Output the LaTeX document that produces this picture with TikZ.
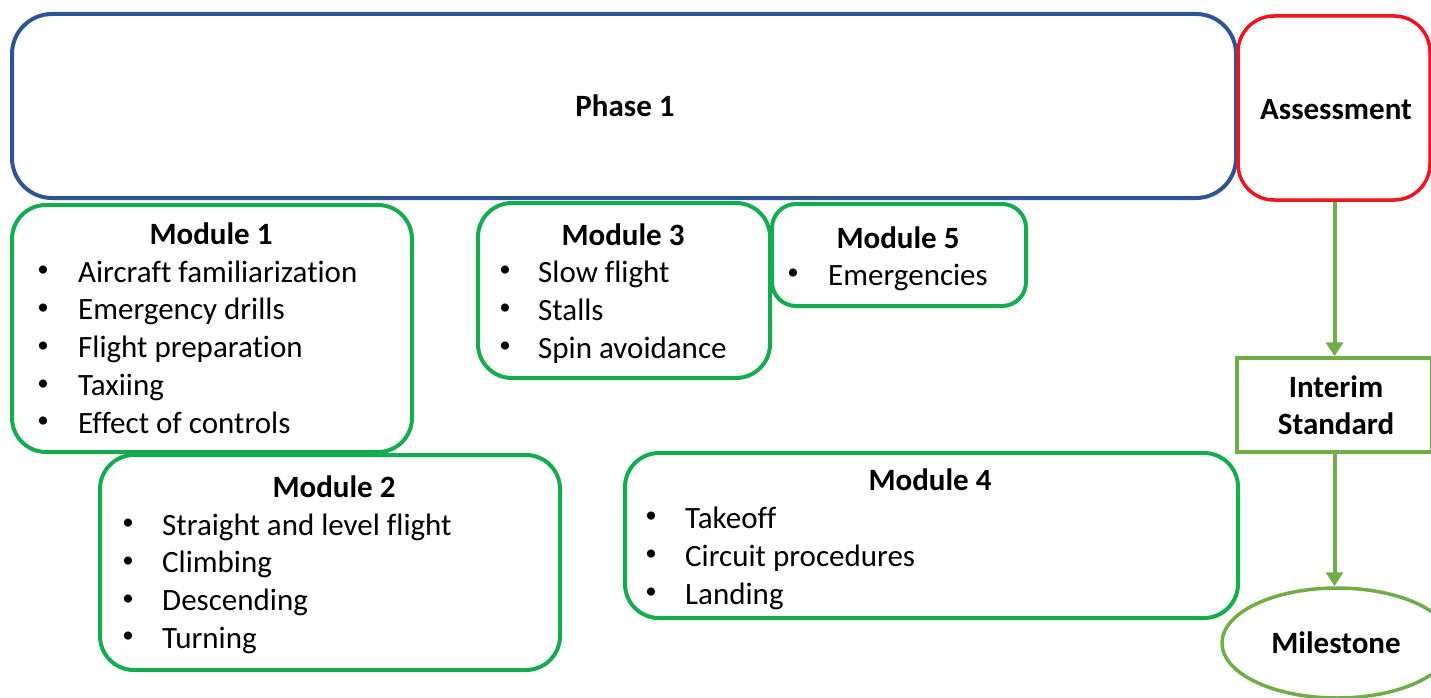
\documentclass[tikz,border=0pt]{standalone}
\usepackage{fontspec}
\setmainfont[Ligatures=NoCommon]{Carlito}
\usetikzlibrary{arrows.meta,shapes.geometric}
\definecolor{phblue}{RGB}{47,85,151}
\definecolor{asred}{RGB}{240,20,30}
\definecolor{modgreen}{RGB}{20,172,78}
\definecolor{olive}{RGB}{112,173,71}
\tikzset{
  phasebox/.style={draw=phblue, line width=4pt, rounded corners=40pt, inner sep=0pt},
  assbox/.style={draw=asred, line width=3.5pt, rounded corners=36pt, inner sep=0pt},
  modbox/.style={draw=modgreen, line width=4pt, rounded corners=34pt, inner sep=0pt},
  modboxs/.style={draw=modgreen, line width=4pt, rounded corners=24pt, inner sep=0pt},
  stdbox/.style={draw=olive, line width=3.5pt, inner sep=0pt},
  mileell/.style={draw=olive, line width=3.5pt, ellipse, inner sep=0pt},
  ttl/.style={anchor=base, font=\fontsize{31}{38}\selectfont\bfseries},
  itm/.style={anchor=base west, inner sep=0pt},
  bul/.style={anchor=center, inner sep=0pt, yshift=10.5pt, font=\fontsize{23}{28}\selectfont},
  flow/.style={draw=olive, line width=4pt, -{Triangle[length=14pt,width=17pt]}},
}
\begin{document}
\begin{tikzpicture}[x=1pt,y=-1pt,font=\fontsize{31}{38}\selectfont]
\clip (0,0) rectangle (1431,698);
\fill[white] (0,0) rectangle (1431,698);

% Phase 1 and Assessment
\node[phasebox, minimum width=1224pt, minimum height=184pt] (phase) at (624,106) {};
\node[ttl] (phaset) at (625,117) {Phase 1};
\node[assbox, minimum width=192pt, minimum height=184pt] (assess) at (1334,108) {};
\node[ttl] (assesst) at (1336,120) {Assessment};

% Module 1
\node[modbox, minimum width=400pt, minimum height=247pt] (m1) at (212,328.5) {};
\node[ttl] (m1t) at (211,244) {Module 1};
\foreach \i/\yy/\txt in {1/282/Aircraft familiarization,2/319.75/Emergency drills,3/357.5/Flight preparation,4/395.25/Taxiing,5/433/Effect of controls}{
  \node[bul] (m1b\i) at (43,\yy) {•};
  \node[itm] (m1i\i) at (78,\yy) {\txt};
}

% Module 2
\node[modbox, minimum width=460pt, minimum height=215pt] (m2) at (330,562.5) {};
\node[ttl] (m2t) at (334,497) {Module 2};
\foreach \i/\yy/\txt in {1/535/Straight and level flight,2/572.5/Climbing,3/610.25/Descending,4/648/Turning}{
  \node[bul] (m2b\i) at (128,\yy) {•};
  \node[itm] (m2i\i) at (162,\yy) {\txt};
}

% Module 3
\node[modbox, minimum width=292pt, minimum height=175pt] (m3) at (624,290.5) {};
\node[ttl] (m3t) at (623,245) {Module 3};
\foreach \i/\yy/\txt in {1/282/Slow flight,2/320/Stalls,3/358/Spin avoidance}{
  \node[bul] (m3b\i) at (505,\yy) {•};
  \node[itm] (m3i\i) at (538,\yy) {\txt};
}

% Module 5
\node[modboxs, minimum width=254pt, minimum height=102pt] (m5) at (899,255) {};
\node[ttl] (m5t) at (898,248) {Module 5};
\node[bul] (m5b1) at (793,285) {•};
\node[itm] (m5i1) at (828,285) {Emergencies};

% Module 4
\node[modbox, minimum width=613pt, minimum height=165pt] (m4) at (931.5,535.5) {};
\node[ttl] (m4t) at (930,490) {Module 4};
\foreach \i/\yy/\txt in {1/528/Takeoff,2/566/Circuit procedures,3/604/Landing}{
  \node[bul] (m4b\i) at (651,\yy) {•};
  \node[itm] (m4i\i) at (685,\yy) {\txt};
}

% Interim Standard and Milestone
\node[stdbox, minimum width=195pt, minimum height=94pt] (interim) at (1334.5,405) {};
\node[ttl] (interimt1) at (1336,397) {Interim};
\node[ttl] (interimt2) at (1336,434) {Standard};
\node[mileell, minimum width=230pt, minimum height=110pt] (mile) at (1337,643) {};
\node[ttl] (milet) at (1336,653) {Milestone};

% Connectors
\draw[flow] (assess.south -| interim.north) -- (interim.north);
\draw[flow] (interim.south) -- (mile.north -| interim.south);
\end{tikzpicture}
\end{document}
